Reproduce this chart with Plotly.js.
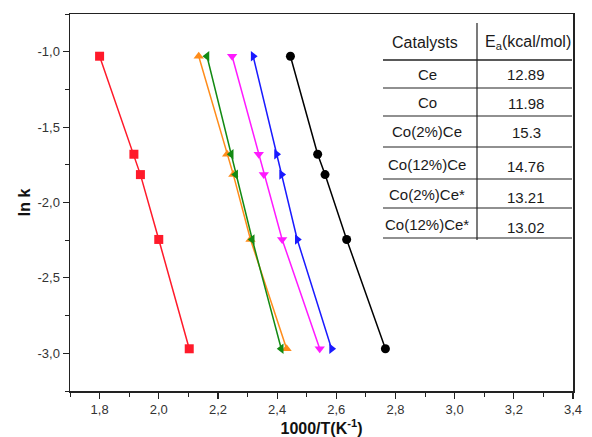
<!DOCTYPE html>
<html>
<head>
<meta charset="utf-8">
<script src="https://cdn.plot.ly/plotly-3.0.1.min.js"></script>
<style>html,body{margin:0;padding:0;background:#fff;}#chart{width:592px;height:437px;}</style>
</head>
<body>
<div id="chart"></div>
<script>
// ---- data ----
const lnK = [-1.03, -1.68, -1.815, -2.245, -2.97];
const xCe      = [1.800, 1.916, 1.938, 2.000, 2.103];
const xCo      = [2.135, 2.231, 2.252, 2.310, 2.432];
const xCo2Ce   = [2.163, 2.245, 2.260, 2.316, 2.414];
const xCo12Ce  = [2.248, 2.338, 2.355, 2.417, 2.544];
const xCo2CeS  = [2.319, 2.398, 2.415, 2.468, 2.584];
const xCo12CeS = [2.445, 2.537, 2.562, 2.635, 2.766];

const catalysts = ["Ce", "Co", "Co(2%)Ce", "Co(12%)Ce", "Co(2%)Ce*", "Co(12%)Ce*"];
const energies  = ["12.89", "11.98", "15.3", "14.76", "13.21", "13.02"];

const yTickVals = [-1.0, -1.5, -2.0, -2.5, -3.0];
const yTickText = ["-1,0", "-1,5", "-2,0", "-2,5", "-3,0"];

const seriesX = [xCe, xCo, xCo2Ce, xCo12Ce, xCo2CeS, xCo12CeS];
const colors  = ["#ff1a2a", "#ff8c1a", "#138a13", "#ff1aff", "#1a1aff", "#000000"];
const symbols = ["square", "triangle-up", "triangle-left", "triangle-down", "triangle-right", "circle"];

const traces = seriesX.map((xs, i) => ({
  x: xs, y: lnK, type: "scatter", mode: "lines+markers", name: catalysts[i],
  line: {color: colors[i], width: 1.5},
  marker: {color: colors[i], symbol: symbols[i], size: 9}
}));

// pixel -> paper helpers (plot area 70..573 x 14..391)
const L = 70, R = 573, T = 14, B = 391;
const px = p => (p - L) / (R - L);
const py = p => (B - p) / (B - T);

const shapes = [];
const annotations = [];
// vertical divider
shapes.push({type: "line", xref: "paper", yref: "paper", x0: px(477), x1: px(477), y0: py(23), y1: py(240), line: {color: "#222", width: 1.2}});
// horizontal lines
const hLines = [60, 88, 116, 147, 179, 208, 238];
hLines.forEach((h, i) => shapes.push({type: "line", xref: "paper", yref: "paper", x0: px(383), x1: px(572), y0: py(h), y1: py(h), line: {color: "#222", width: i === 0 ? 1.6 : 1.1}}));

const tf = {family: "Liberation Sans, Arial, sans-serif", size: 15, color: "#1a1a1a"};
annotations.push({xref: "paper", yref: "paper", x: px(425), y: py(42), text: "Catalysts", showarrow: false, font: {...tf, size: 16}, xanchor: "center", yanchor: "middle"});
annotations.push({xref: "paper", yref: "paper", x: px(528), y: py(42), text: "E<sub>a</sub>(kcal/mol)", showarrow: false, font: {...tf, size: 16}, xanchor: "center", yanchor: "middle"});
const rowY = [74, 102, 131, 164, 194, 224];
const valY = [74, 103, 132, 166, 197, 227];
catalysts.forEach((c, i) => {
  annotations.push({xref: "paper", yref: "paper", x: px(427), y: py(rowY[i]), text: c, showarrow: false, font: tf, xanchor: "center", yanchor: "middle"});
  annotations.push({xref: "paper", yref: "paper", x: px(526), y: py(valY[i]), text: energies[i], showarrow: false, font: tf, xanchor: "center", yanchor: "middle"});
});

const axFont = {family: "Liberation Sans, Arial, sans-serif", size: 13, color: "#333"};
const layout = {
  width: 592, height: 437,
  margin: {l: L, r: 592 - R, t: T, b: 437 - B, pad: 0},
  paper_bgcolor: "#fff", plot_bgcolor: "#fff",
  separators: ",.",
  showlegend: false,
  xaxis: {
    range: [1.7, 3.4], dtick: 0.2, tick0: 1.8, tickformat: ".1f",
    ticks: "outside", ticklen: 6, tickwidth: 1.2, tickcolor: "#222",
    minor: {dtick: 0.1, ticks: "outside", ticklen: 4, tickcolor: "#222", tickwidth: 1},
    showline: true, linecolor: "#222", linewidth: 1.5, mirror: true,
    showgrid: false, zeroline: false, tickfont: axFont,
    title: {text: "<b>1000/T(K<sup>-1</sup>)</b>", font: {family: "Liberation Sans, Arial, sans-serif", size: 16, color: "#111"}, standoff: 7}
  },
  yaxis: {
    range: [-3.25, -0.75], tickmode: "array", tickvals: yTickVals, ticktext: yTickText,
    ticks: "outside", ticklen: 6, tickwidth: 1.2, tickcolor: "#222",
    minor: {dtick: 0.25, tick0: -1, ticks: "outside", ticklen: 4, tickcolor: "#222", tickwidth: 1},
    showline: true, linecolor: "#222", linewidth: 1.5, mirror: true,
    showgrid: false, zeroline: false, tickfont: axFont,
    title: {text: "<b>ln k</b>", font: {family: "Liberation Sans, Arial, sans-serif", size: 16, color: "#111"}, standoff: 3}
  },
  shapes: shapes,
  annotations: annotations
};

Plotly.newPlot("chart", traces, layout, {displayModeBar: false, staticPlot: true});
</script>
</body>
</html>
